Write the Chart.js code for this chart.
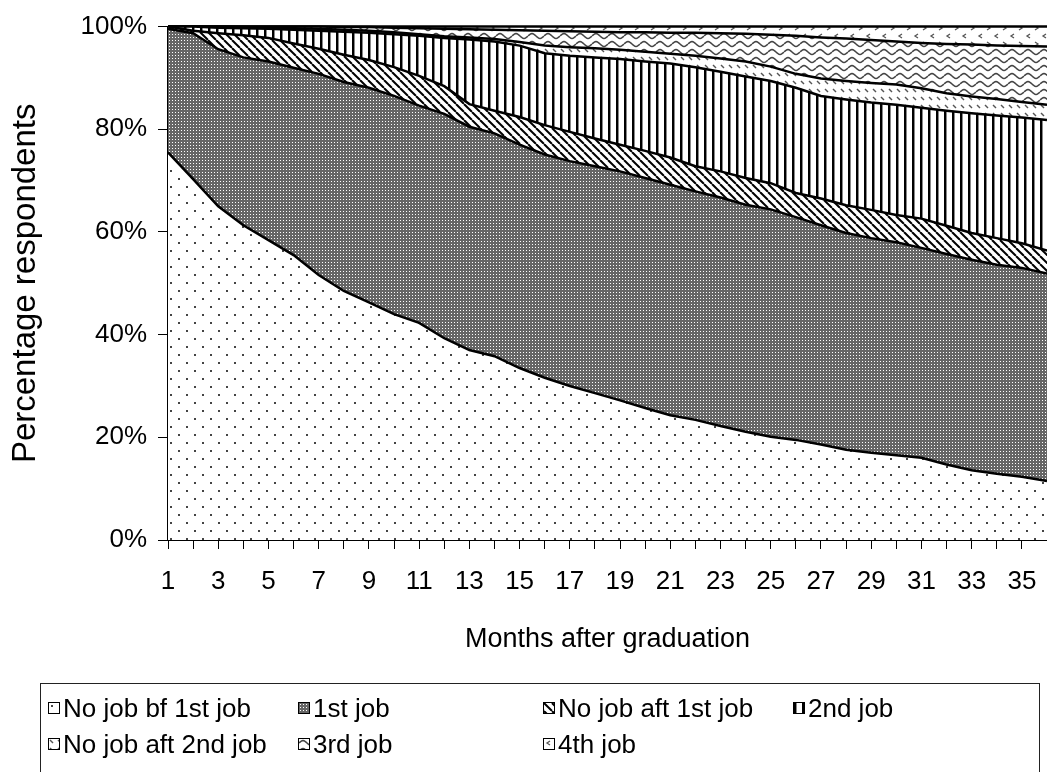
<!DOCTYPE html>
<html>
<head>
<meta charset="utf-8">
<title>Labour market status after graduation</title>
<script src="https://cdn.jsdelivr.net/npm/chart.js@4.4.1/dist/chart.umd.min.js"></script>
<style>
    html, body { margin: 0; padding: 0; background: #fff; overflow: hidden; }
    #wrap { position: relative; width: 1047px; height: 772px; }
    #chart { position: absolute; left: 0; top: 0; }
    #legend {
        position: absolute; left: 40px; top: 683px; width: 1000px; height: 100px;
        border: 1px solid #222; box-sizing: border-box;
        font-family: 'Liberation Sans', Arial, sans-serif; font-size: 26px; color: #000;
    }
    .item { position: absolute; display: flex; align-items: center; white-space: nowrap; height: 30px; }
    .item canvas { border: 1px solid #000; margin-right: 3px; flex: none; }
</style>
</head>
<body>
<div id="wrap">
    <canvas id="chart" width="1047" height="772"></canvas>
    <div id="legend"></div>
</div>
<script>
// Months after graduation
const months = [1, 2, 3, 4, 5, 6, 7, 8, 9, 10, 11, 12, 13, 14, 15, 16, 17, 18,
    19, 20, 21, 22, 23, 24, 25, 26, 27, 28, 29, 30, 31, 32, 33, 34, 35, 36];

const seriesNames = ['No job bf 1st job', '1st job', 'No job aft 1st job', '2nd job',
    'No job aft 2nd job', '3rd job', '4th job'];

// share of respondents (%) per month
const noJobBefore1st = [75.5, 70.3, 65.0, 61.3, 58.4, 55.5, 51.6, 48.5, 46.3, 44.0,
    42.3, 39.3, 37.0, 35.8, 33.5, 31.6, 30.0, 28.6, 27.2, 25.7,
    24.3, 23.4, 22.2, 21.1, 20.1, 19.5, 18.6, 17.6, 17.0, 16.5,
    16.0, 14.7, 13.6, 12.9, 12.3, 11.5];
const firstJob = [24.1, 28.4, 30.6, 32.7, 34.8, 36.5, 39.2, 40.7, 41.8, 42.5,
    42.3, 43.7, 43.5, 43.4, 43.5, 43.5, 43.8, 44.2, 44.6, 44.8,
    44.9, 44.5, 44.5, 44.2, 44.3, 43.4, 42.7, 42.2, 41.8, 41.5,
    40.9, 41.0, 41.0, 40.7, 40.7, 40.4];
const noJobAfter1st = [0.4, 0.5, 3.1, 4.3, 4.6, 4.7, 4.9, 5.3, 5.4, 5.6,
    5.8, 5.4, 4.4, 4.4, 5.4, 5.7, 5.7, 5.4, 5.2, 5.3,
    5.3, 4.9, 5.1, 5.2, 5.1, 4.7, 5.2, 5.4, 5.5, 5.3,
    5.7, 5.5, 5.2, 5.2, 4.8, 4.5];
const secondJob = [0.0, 0.8, 1.1, 1.4, 1.8, 2.7, 3.5, 4.5, 5.3, 6.4,
    7.8, 9.4, 12.6, 13.5, 13.9, 14.0, 14.8, 15.8, 16.7, 17.4,
    18.3, 19.3, 19.4, 19.8, 19.9, 20.5, 20.0, 20.6, 20.9, 21.5,
    21.6, 22.4, 23.3, 23.9, 24.5, 25.4];
const noJobAfter2nd = [0.0, 0.0, 0.2, 0.2, 0.2, 0.3, 0.4, 0.4, 0.4, 0.4,
    0.3, 0.3, 0.4, 0.5, 0.7, 1.5, 1.7, 1.8, 1.8, 1.9,
    1.9, 2.2, 2.6, 2.9, 2.8, 2.7, 3.4, 3.6, 3.8, 3.9,
    3.8, 3.4, 3.3, 3.2, 3.0, 3.0];
const thirdJob = [0.0, 0.0, 0.0, 0.1, 0.2, 0.3, 0.4, 0.5, 0.7, 0.9,
    1.2, 1.5, 1.6, 1.8, 2.3, 2.9, 3.1, 3.2, 3.4, 3.8,
    4.1, 4.5, 4.9, 5.4, 6.2, 7.4, 8.0, 8.3, 8.4, 8.4,
    8.8, 9.6, 10.1, 10.4, 10.9, 11.3];
const fourthJob = [0.0, 0.0, 0.0, 0.0, 0.0, 0.0, 0.0, 0.1, 0.1, 0.2,
    0.3, 0.4, 0.5, 0.6, 0.7, 0.8, 0.9, 1.0, 1.1, 1.1,
    1.2, 1.2, 1.3, 1.4, 1.6, 1.8, 2.1, 2.3, 2.6, 2.9,
    3.2, 3.4, 3.5, 3.7, 3.8, 3.9];

const seriesValues = [noJobBefore1st, firstJob, noJobAfter1st, secondJob,
    noJobAfter2nd, thirdJob, fourthJob];

const FONT = "'Liberation Sans', Arial, sans-serif";

// --- fill patterns (black & white, like the original print) ---
function tile(w, h, draw) {
    const c = document.createElement('canvas');
    c.width = w;
    c.height = h;
    const g = c.getContext('2d');
    g.fillStyle = '#fff';
    g.fillRect(0, 0, w, h);
    draw(g);
    return c;
}

const tiles = [
    // sparse dots
    tile(16, 16, g => {
        g.fillStyle = '#444';
        g.fillRect(2, 2, 2, 2);
        g.fillRect(10, 10, 2, 2);
    }),
    // fine grey checker
    tile(3, 3, g => {
        g.fillStyle = '#666';
        g.fillRect(0, 0, 3, 3);
        g.fillStyle = '#fff';
        g.fillRect(1, 1, 1, 1);
    }),
    // wide downward diagonal
    tile(8, 8, g => {
        g.strokeStyle = '#000';
        g.lineWidth = 2;
        [-8, 0, 8].forEach(k => {
            g.beginPath();
            g.moveTo(k, 0);
            g.lineTo(k + 8, 8);
            g.stroke();
        });
    }),
    // vertical lines
    tile(8, 8, g => {
        g.fillStyle = '#000';
        g.fillRect(0, 0, 2, 8);
        g.fillStyle = '#888';
        g.fillRect(2, 0, 1, 8);
    }),
    // dashed downward diagonal
    tile(8, 8, g => {
        g.strokeStyle = '#555';
        g.lineWidth = 1.4;
        g.beginPath();
        g.moveTo(1, 1);
        g.lineTo(4, 4);
        g.stroke();
    }),
    // wave
    tile(16, 8, g => {
        g.strokeStyle = '#444';
        g.lineWidth = 1.5;
        g.beginPath();
        for (let x = 0; x <= 16; x++) {
            const y = 4 - 2.4 * Math.sin(x / 16 * Math.PI * 2);
            if (x === 0) g.moveTo(x, y); else g.lineTo(x, y);
        }
        g.stroke();
    }),
    // small chevrons
    tile(16, 16, g => {
        g.strokeStyle = '#555';
        g.lineWidth = 1.3;
        g.beginPath();
        g.moveTo(6, 2); g.lineTo(3, 4); g.lineTo(6, 6);
        g.moveTo(11, 10); g.lineTo(14, 12); g.lineTo(11, 14);
        g.stroke();
    })
];

const ctx = document.getElementById('chart').getContext('2d');
const patterns = tiles.map(t => ctx.createPattern(t, 'repeat'));

const datasets = seriesNames.map((name, i) => ({
    label: name,
    data: seriesValues[i],
    backgroundColor: patterns[i],
    borderColor: '#000',
    borderWidth: 2.5,
    fill: i === 0 ? 'origin' : '-1',
    pointRadius: 0,
    tension: 0,
    clip: 4
}));

const chart = new Chart(ctx, {
    type: 'line',
    data: {
        labels: months,
        datasets: datasets
    },
    options: {
        responsive: false,
        animation: false,
        layout: {
            padding: { top: 18, left: 0, right: 0, bottom: 116 }
        },
        plugins: {
            legend: { display: false },
            tooltip: { enabled: false }
        },
        scales: {
            x: {
                offset: false,
                afterFit: function(scale) {
                    scale.height = 116;
                    scale.paddingLeft = 0;
                    scale.paddingRight = 0;
                },
                ticks: {
                    autoSkip: false,
                    maxRotation: 0,
                    padding: 17,
                    color: '#000',
                    font: { family: FONT, size: 26 },
                    callback: function(value, index) {
                        return months[index] % 2 === 1 ? String(months[index]) : '';
                    }
                },
                grid: {
                    drawOnChartArea: false,
                    drawTicks: true,
                    tickLength: 9,
                    color: '#000'
                },
                border: { display: true, color: '#000', width: 2 },
                title: {
                    display: true,
                    text: 'Months after graduation',
                    color: '#000',
                    font: { family: FONT, size: 27 },
                    padding: { top: 0, bottom: 0 }
                }
            },
            y: {
                stacked: true,
                min: 0,
                max: 100,
                afterFit: function(scale) { scale.width = 168; },
                ticks: {
                    stepSize: 20,
                    padding: 11,
                    color: '#000',
                    font: { family: FONT, size: 26 },
                    callback: function(value) { return value + '%'; }
                },
                grid: {
                    drawOnChartArea: false,
                    drawTicks: true,
                    tickLength: 10,
                    color: '#000'
                },
                border: { display: true, color: '#000', width: 2 },
                title: {
                    display: true,
                    text: 'Percentage respondents',
                    color: '#000',
                    font: { family: FONT, size: 33 },
                    padding: { top: 6, bottom: 0 }
                }
            }
        }
    }
});

// Legend: two rows in equal-width columns, like the original
const legendBox = document.getElementById('legend');
const colX = [7, 257, 502, 752];
const rowY = [9, 45];
const slots = [[0, 0], [1, 0], [2, 0], [3, 0], [0, 1], [1, 1], [2, 1]];
seriesNames.forEach((name, i) => {
    const item = document.createElement('div');
    item.className = 'item';
    item.style.left = colX[slots[i][0]] + 'px';
    item.style.top = rowY[slots[i][1]] + 'px';
    const sw = document.createElement('canvas');
    sw.width = 10;
    sw.height = 10;
    const sctx = sw.getContext('2d');
    sctx.fillStyle = sctx.createPattern(tiles[i], 'repeat');
    sctx.fillRect(0, 0, 10, 10);
    const label = document.createElement('span');
    label.textContent = name;
    item.appendChild(sw);
    item.appendChild(label);
    legendBox.appendChild(item);
});
</script>
</body>
</html>
